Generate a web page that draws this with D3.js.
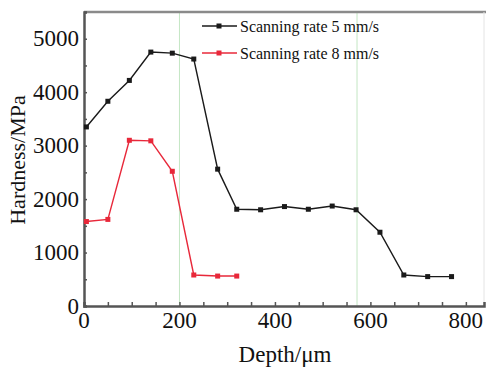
<!DOCTYPE html>
<html>
<head>
<meta charset="utf-8">
<script src="https://cdn.jsdelivr.net/npm/d3@7"></script>
<style>
	body { margin: 0; background: #fff; }
	svg { display: block; }
	svg text { font-family: "Liberation Serif", "Times New Roman", serif; }
</style>
</head>
<body>
<svg width="487" height="369"></svg>
<script>
// depth (um) and hardness (MPa)
const depth5 = [5, 50, 95, 140, 185, 230, 280, 320, 370, 420, 470, 520, 570, 620, 670, 720, 770]
const hard5 = [3350, 3830, 4220, 4750, 4730, 4620, 2560, 1810, 1800, 1860, 1810, 1870, 1800, 1380, 580, 550, 550]
const depth8 = [5, 50, 95, 140, 185, 230, 280, 320]
const hard8 = [1580, 1620, 3100, 3090, 2520, 580, 560, 560]
const xTicks = [0, 200, 400, 600, 800]
const yTicks = [0, 1000, 2000, 3000, 4000, 5000]
const guideDepths = [200, 572]
const seriesNames = ['Scanning rate 5 mm/s', 'Scanning rate 8 mm/s']
const seriesColors = ['#1a1a1a', '#e8283a']

const svg = d3.select('svg')
const mLeft = 84, mRight = 484, mTop = 12, mBottom = 306

let xScale = d3.scaleLinear().domain([0, 838]).range([mLeft, mRight])
let yScale = d3.scaleLinear().domain([0, 5500]).range([mBottom, mTop])

// faint green guide lines
svg.append('g').selectAll('line')
	.data(guideDepths)
	.enter().append('line')
	.attr('x1', d => xScale(d)).attr('x2', d => xScale(d))
	.attr('y1', mTop).attr('y2', mBottom)
	.attr('stroke', '#c4e6c4').attr('stroke-width', 1)

// frame
svg.append('line').attr('x1', mLeft).attr('x2', mRight + 2).attr('y1', mTop).attr('y2', mTop)
	.attr('stroke', '#8a8a8a').attr('stroke-width', 2.5)
svg.append('line').attr('x1', mRight).attr('x2', mRight).attr('y1', mTop).attr('y2', mBottom)
	.attr('stroke', '#e4e4e4').attr('stroke-width', 1)

// axes with inward ticks
let bottomAxisG = svg.append('g').attr('transform', `translate(0, ${mBottom})`)
bottomAxisG.call(d3.axisBottom(xScale).tickValues(d3.range(0, 851, 50)).tickSize(-4).tickFormat(''))
bottomAxisG.selectAll('text.lbl').data(xTicks).enter().append('text')
	.attr('class', 'lbl')
	.attr('x', d => xScale(d)).attr('y', 22)
	.attr('text-anchor', 'middle').attr('font-size', 23).attr('fill', '#111')
	.text(d => d)

let leftAxisG = svg.append('g').attr('transform', `translate(${mLeft}, 0)`)
leftAxisG.call(d3.axisLeft(yScale).tickValues(d3.range(0, 5501, 500)).tickSize(-3).tickFormat(''))
leftAxisG.selectAll('text.lbl').data(yTicks).enter().append('text')
	.attr('class', 'lbl')
	.attr('x', -5).attr('y', d => yScale(d) + 7.5)
	.attr('text-anchor', 'end').attr('font-size', 23).attr('fill', '#111')
	.text(d => d)

svg.selectAll('.domain').attr('stroke', '#555').attr('stroke-width', 2.5)
svg.selectAll('.tick line').attr('stroke', '#555').attr('stroke-width', 1.5)

// axis titles
svg.append('text')
	.attr('transform', `translate(25, ${(mTop + mBottom) / 2 + 1}) rotate(-90)`)
	.attr('text-anchor', 'middle').attr('font-size', 22).attr('fill', '#111')
	.text('Hardness/MPa')
svg.append('text')
	.attr('x', 285).attr('y', 362)
	.attr('text-anchor', 'middle').attr('font-size', 23).attr('fill', '#111')
	.text('Depth/μm')

// series
const series = [
	depth5.map((d, i) => [d, hard5[i]]),
	depth8.map((d, i) => [d, hard8[i]])
]
let line = d3.line().x(d => xScale(d[0])).y(d => yScale(d[1]))

series.forEach((pts, k) => {
	let g = svg.append('g')
	g.append('path')
		.attr('d', line(pts))
		.attr('fill', 'none')
		.attr('stroke', seriesColors[k])
		.attr('stroke-width', 1.4)
	g.selectAll('rect').data(pts).enter().append('rect')
		.attr('x', d => xScale(d[0]) - 2.5)
		.attr('y', d => yScale(d[1]) - 2.5)
		.attr('width', 5).attr('height', 5)
		.attr('fill', seriesColors[k])
})

// legend
let legend = svg.append('g')
seriesNames.forEach((name, k) => {
	let ly = 26 + k * 27
	legend.append('line').attr('x1', 202).attr('x2', 237).attr('y1', ly).attr('y2', ly)
		.attr('stroke', seriesColors[k]).attr('stroke-width', 1.4)
	legend.append('rect').attr('x', 216.5).attr('y', ly - 2.5).attr('width', 5).attr('height', 5)
		.attr('fill', seriesColors[k])
	legend.append('text').attr('x', 240).attr('y', ly + 6)
		.attr('font-size', 16).attr('fill', '#111')
		.text(name)
})
</script>
</body>
</html>
